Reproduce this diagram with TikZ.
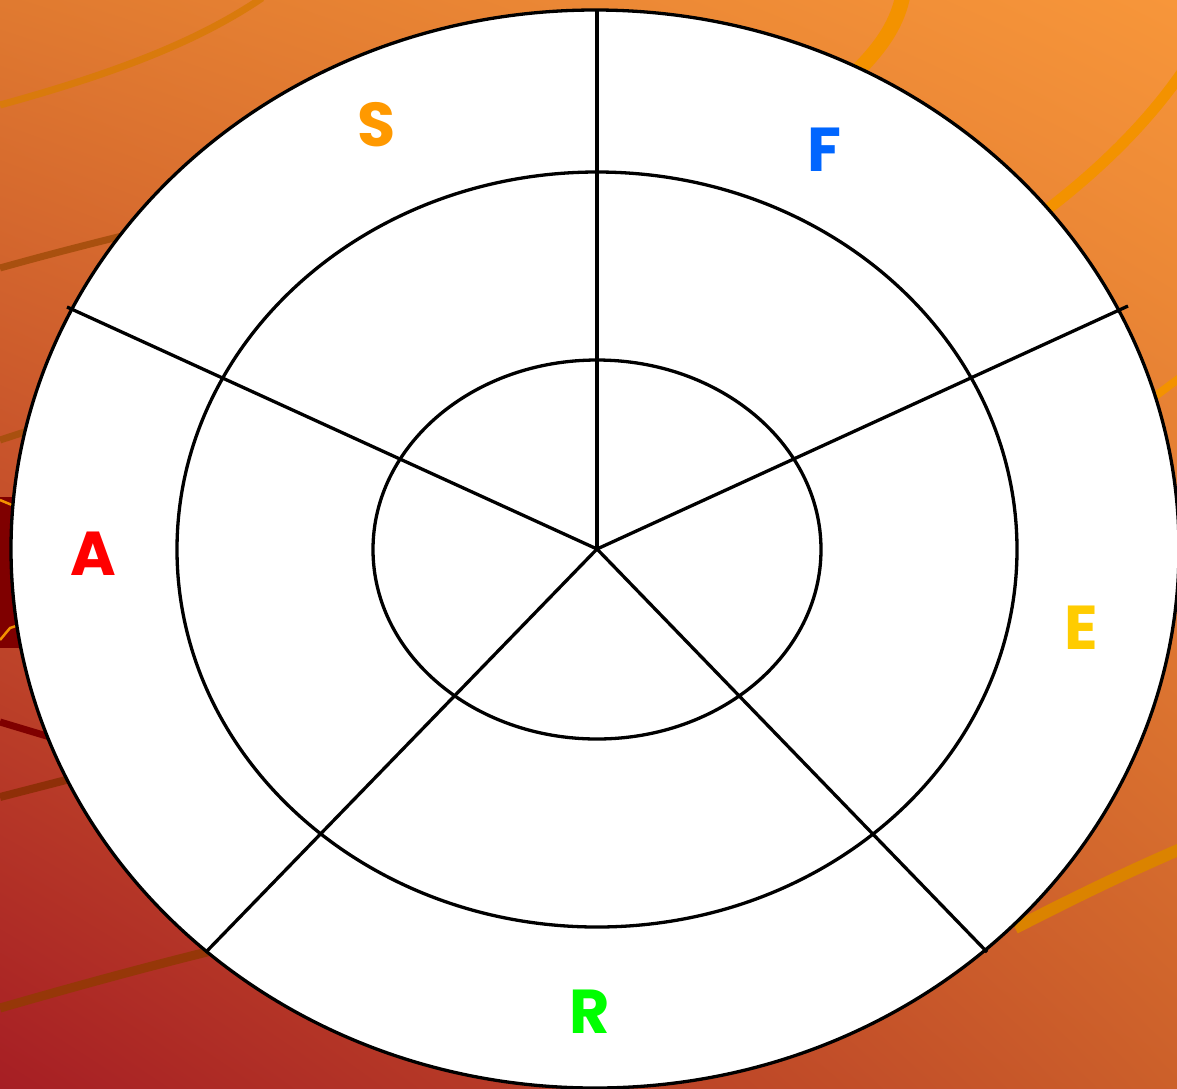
\documentclass[tikz,border=0pt]{standalone}
\usepackage{fontspec}
\setmainfont{Poppins}
\usetikzlibrary{shapes.geometric,shadings}
\definecolor{bgUL}{HTML}{E07A30}
\definecolor{bgUR}{HTML}{F7963A}
\definecolor{bgLL}{HTML}{A61E24}
\definecolor{bgLR}{HTML}{CC602A}
\definecolor{swA}{HTML}{F39200}
\definecolor{swB}{HTML}{D97A0C}
\definecolor{swC}{HTML}{A9500F}
\definecolor{swD}{HTML}{8F2F08}
\definecolor{swE}{HTML}{7F0000}
\definecolor{labS}{HTML}{FF9900}
\definecolor{labF}{HTML}{0066FF}
\definecolor{labA}{HTML}{FF0000}
\definecolor{labE}{HTML}{FFCC00}
\definecolor{labR}{HTML}{00FF00}
\tikzset{
  swoosh/.style={line width=#1, line cap=butt},
  ring/.style={draw=black, line width=3.3pt},
  spoke/.style={draw=black, line width=3.3pt},
  lab/.style={font=\fontsize{62}{62}\selectfont\bfseries, inner sep=0pt, anchor=center}
}
\begin{document}
\begin{tikzpicture}[x=1pt,y=-1pt]
\useasboundingbox (0,0) rectangle (1177,1088);
% background
\shade[upper left=bgUL, upper right=bgUR, lower left=bgLL, lower right=bgLR] (0,0) rectangle (1177,1088);
\begin{scope}
\clip (0,0) rectangle (1177,1088);
% swooshes
\draw[swoosh=7pt, swB] (0,105) .. controls (120,72) and (200,40) .. (262,-2);
\draw[swoosh=7pt, swC] (0,268) .. controls (50,254) and (90,244) .. (130,234);
\draw[swoosh=7pt, swC] (0,440) -- (40,427);
\fill[swE] (0,497) rectangle (30,648);
\draw[line width=2.5pt, swA] (0,500) -- (12,505);
\draw[line width=2.5pt, swA] (0,640) -- (10,628) -- (16,626);
\draw[line width=7pt, swE] (0,722) -- (50,737);
\draw[swoosh=8pt, swD] (0,797) -- (70,779);
\draw[swoosh=9pt, swD!90!swB] (0,1008) .. controls (80,985) and (150,966) .. (215,950);
\draw[swoosh=15pt, swA] (903,-5) .. controls (898,20) and (885,45) .. (850,78);
\draw[swoosh=11pt, swA] (1185,68) .. controls (1150,120) and (1100,170) .. (1040,215);
\draw[swoosh=8pt, swA] (1185,374) -- (1150,400);
\draw[swoosh=12pt, swA!90!black] (1185,847) .. controls (1120,875) and (1070,900) .. (1015,928);
\end{scope}
% chart
\coordinate (c) at (597,549);
\fill[white] (595,549) ellipse [x radius=584, y radius=539];
\coordinate (pT) at (597,10);
\coordinate (pUR) at (1128,306);
\coordinate (pUL) at (67,307);
\coordinate (pLR) at (987,952);
\coordinate (pLL) at (206,952);
\draw[spoke] (c) -- (pT);
\draw[spoke] (c) -- (pUR);
\draw[spoke] (c) -- (pUL);
\draw[spoke] (c) -- (pLR);
\draw[spoke] (c) -- (pLL);
\draw[ring] (597,549.5) ellipse [x radius=224, y radius=189.5];
\draw[ring] (597,549.5) ellipse [x radius=420, y radius=377.5];
\draw[ring] (595,549) ellipse [x radius=584, y radius=539];
% labels
\node[lab, text=labS] (lS) at (377,125) {S};
\node[lab, text=labF] (lF) at (824,150) {F};
\node[lab, text=labA] (lA) at (93,554) {A};
\node[lab, text=labE] (lE) at (1081,628) {E};
\node[lab, text=labR] (lR) at (590,1012) {R};
\end{tikzpicture}
\end{document}
